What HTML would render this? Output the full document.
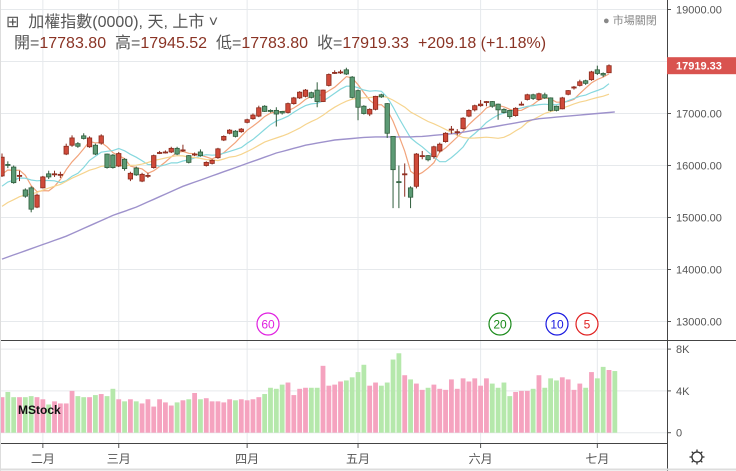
<!DOCTYPE html>
<html><head><meta charset="utf-8"><style>
body{margin:0;background:#fff;}
#wrap{position:relative;width:736px;height:471px;overflow:hidden;font-family:"Liberation Sans","Noto Sans CJK TC",sans-serif;}
.hd{position:absolute;left:6px;font-size:16px;color:#555;white-space:nowrap;}
.v{color:#8a3324;}
</style></head><body>
<div id="wrap">
<div class="hd" style="top:8px">⊞&nbsp; 加權指數(0000), 天, 上市 ˅</div>
<div class="hd" style="top:29px;left:14px">開=<span class="v">17783.80</span>&nbsp; 高=<span class="v">17945.52</span>&nbsp; 低=<span class="v">17783.80</span>&nbsp; 收=<span class="v">17919.33</span>&nbsp; <span class="v">+209.18 (+1.18%)</span></div>
<div style="position:absolute;left:603px;top:12px;font-size:11px;color:#888">● 市場關閉</div>
<svg id="svg" width="736" height="471" style="position:absolute;left:0;top:0;z-index:-1"></svg>
</div>
<script>
const opens=[15800,16020,15970,15800,15530,15570,15200,15570,15840,15830,15820,16220,16390,16420,16570,16360,16390,16430,16220,16200,15990,16120,15740,15950,15700,15800,15960,16240,16260,16260,16330,16290,16190,16210,16260,16000,16040,16150,16490,16620,16660,16650,16830,16900,16950,17140,17060,17060,17040,17020,17190,17300,17330,17400,17450,17230,17540,17780,17790,17840,17700,17440,17140,16990,17080,17360,17190,16560,15690,15830,15570,15600,16180,16190,16170,16280,16460,16690,16640,16710,16950,17070,17150,17220,17230,17180,17080,17060,16960,17170,17270,17360,17270,17360,17300,17140,17090,17370,17490,17540,17630,17650,17840,17770,17783.8];
const closes=[16160,16010,15670,15810,15410,15160,15430,15780,15780,15840,15830,16370,16530,16370,16520,16530,16220,16570,15960,15960,16230,15940,15850,15820,15830,15810,16190,16250,16260,16330,16220,16300,16060,16220,16190,16060,16100,16320,16560,16680,16560,16700,16880,16970,17110,17040,17040,16990,17010,17190,17300,17410,17450,17310,17230,17450,17750,17790,17800,17760,17310,17120,17000,17080,17330,17320,16620,15920,15680,15840,15390,16220,16190,16110,16360,16410,16620,16700,16650,16910,17060,17150,17180,17230,17140,17070,17020,16940,17100,17180,17360,17290,17380,17300,17060,17060,17300,17440,17510,17610,17580,17800,17770,17740,17919.33];
const highs=[16230,16080,16000,15900,15560,15600,15460,15800,15900,15900,15880,16420,16580,16450,16620,16560,16420,16600,16230,16220,16260,16140,15880,15980,15860,15860,16210,16280,16290,16360,16360,16400,16200,16250,16310,16080,16120,16340,16580,16700,16680,16720,16900,17000,17150,17160,17080,17120,17050,17210,17320,17430,17470,17420,17600,17460,17770,17830,17840,17880,17720,17460,17160,17100,17340,17380,17200,16560,16000,16040,15600,16240,16280,16200,16380,16440,16640,16760,16700,16930,17080,17170,17260,17240,17240,17190,17100,17070,17120,17230,17380,17380,17400,17400,17310,17150,17320,17450,17530,17650,17650,17820,17920,17790,17945.52];
const lows=[15780,15950,15650,15700,15380,15100,15180,15560,15740,15780,15760,16200,16360,16340,16500,16340,16200,16400,15940,15940,15970,15900,15700,15800,15680,15760,15940,16220,16230,16240,16200,16260,16040,16180,16170,15980,16020,16130,16470,16600,16540,16630,16810,16880,16930,17030,17020,16750,16980,17000,17170,17280,17310,17290,17120,17220,17520,17760,17760,17740,17290,16870,16980,16950,17060,17300,16530,15180,15180,15400,15180,15560,16120,16080,16130,16250,16440,16610,16580,16690,16930,17040,17130,17140,17110,16880,17000,16900,16940,17150,17250,17260,17250,17280,17040,17040,17080,17350,17460,17520,17550,17630,17740,17700,17783.8];
const volumes=[3.4,3.9,3.4,3.4,3.4,3.5,3.4,3.2,2.7,3.0,2.8,2.8,4.0,3.5,3.4,3.4,3.6,3.7,3.5,4.2,3.2,3.0,3.2,3.0,2.8,3.2,2.5,3.2,2.9,2.6,2.9,3.1,3.2,3.8,3.2,3.3,3.0,3.0,2.9,3.2,3.1,3.2,3.1,3.2,3.4,3.7,4.3,4.2,4.6,4.8,3.6,4.2,4.3,4.3,4.3,6.4,4.5,4.6,4.9,5.0,5.3,5.8,6.5,4.5,4.8,4.5,4.8,7.0,7.6,5.5,5.1,4.7,4.1,4.3,4.6,4.2,4.1,5.1,4.2,5.2,4.9,5.2,4.5,5.2,4.7,4.3,4.8,3.5,3.9,4.0,4.0,4.2,5.5,4.3,5.2,5.0,5.3,5.1,4.1,4.7,4.3,5.8,5.2,6.3,6.0,5.9];
const priorCloses=[14500,14600,14650,14700,14800,14850,14900,15000,15100,15150,15200,15300,15400,15450,15500,15600,15700,15800,15900];
const ma60=[14200,14240,14280,14320,14360,14400,14440,14480,14520,14560,14600,14640,14690,14740,14790,14840,14890,14940,14990,15040,15080,15120,15160,15200,15250,15300,15350,15400,15450,15500,15550,15600,15640,15680,15720,15760,15800,15840,15880,15920,15960,16000,16040,16080,16120,16160,16200,16240,16270,16300,16330,16360,16390,16410,16430,16450,16470,16490,16500,16510,16520,16530,16540,16545,16550,16550,16550,16550,16550,16550,16550,16555,16560,16570,16580,16590,16600,16610,16620,16640,16660,16680,16700,16720,16740,16760,16780,16800,16820,16840,16860,16880,16900,16910,16920,16930,16940,16950,16960,16970,16980,16990,17000,17010,17020,17030];
const priceTicks=[19000,18000,17000,16000,15000,14000,13000];
const volTicks=[8,4,0];
const volTickLabels=["8K","4K","0"];
const monthLabels=["二月","三月","四月","五月","六月","七月"];
const monthIdx=[7,20,42,61,82,102];
const maPeriods=[5,10,20];
const maColors=["#f2a47c","#86d8de","#f6d48e"];
const markerLabels=["60","20","10","5"];
const markerColors=["#e020e0","#1a8a1a","#1a1ae0","#e02020"];
const markerX=[268,500,557,587];

const NS="http://www.w3.org/2000/svg",svg=document.getElementById('svg');
function mk(t,a,p){const e=document.createElementNS(NS,t);for(const k in a)e.setAttribute(k,a[k]);(p||svg).appendChild(e);return e;}
const n=closes.length;
const X=i=>2+i*(607/(n-1));
const Y=v=>113.5-(v-17000)*0.052;
const VY=v=>432.7-v*10.45;
priceTicks.forEach(t=>{const g=mk('line',{x1:0,x2:667,y1:Y(t),y2:Y(t),stroke:'#e6e9ec'});
 const l=mk('text',{x:676,y:Y(t)+4,'font-size':11,fill:'#555'});l.textContent=t.toFixed(2);
 mk('line',{x1:667,x2:671,y1:Y(t),y2:Y(t),stroke:'#555'});});
volTicks.forEach((t,k)=>{const g=mk('line',{x1:0,x2:667,y1:VY(t),y2:VY(t),stroke:'#e6e9ec'});
 const l=mk('text',{x:676,y:VY(t)+4,'font-size':11,fill:'#555'});l.textContent=volTickLabels[k];
 mk('line',{x1:667,x2:671,y1:VY(t),y2:VY(t),stroke:'#555'});});
monthIdx.forEach((mi,k)=>{const x=X(mi);const g=mk('line',{x1:x,x2:x,y1:0,y2:443,stroke:'#e6e9ec'});
 mk('line',{x1:x,x2:x,y1:443,y2:448,stroke:'#555'});
 const l=mk('text',{x:x,y:463,'font-size':12,fill:'#555','text-anchor':'middle'});l.textContent=monthLabels[k];});
volumes.forEach((v,i)=>{const up=closes[i]>=opens[i];const r=mk('rect',{x:X(i)-2.4,y:VY(v),width:4.8,height:VY(0)-VY(v),fill:up?'#f5a3bf':'#b5e8ab'});
 });
const all=priorCloses.concat(closes),off=priorCloses.length;
maPeriods.forEach((p,k)=>{let d='';for(let i=0;i<n;i++){const j=i+off;const s=Math.max(0,j-p+1);let sum=0;for(let q=s;q<=j;q++)sum+=all[q];d+=(i?'L':'M')+X(i).toFixed(1)+' '+Y(sum/(j-s+1)).toFixed(1);}
 const pl=mk('path',{d:d,fill:'none',stroke:maColors[k],'stroke-width':1.2});});
{let d='';ma60.forEach((v,i)=>{d+=(i?'L':'M')+X(i).toFixed(1)+' '+Y(v).toFixed(1);});const pl=mk('path',{d:d,fill:'none',stroke:'#9e92cc','stroke-width':1.4});}
for(let i=0;i<n;i++){const up=closes[i]>=opens[i];const bc=up?'#8a2a1c':'#2f5d3c';const fc=up?'#cf4a3a':'#5c9a74';
 const g=mk('g',{});
 mk('line',{x1:X(i),x2:X(i),y1:Y(highs[i]),y2:Y(lows[i]),stroke:bc},g);
 const t=Y(Math.max(opens[i],closes[i])),b=Y(Math.min(opens[i],closes[i]));
 mk('rect',{x:X(i)-2.2,y:t,width:4.4,height:Math.max(1,b-t),fill:fc,stroke:bc,'stroke-width':0.8},g);}
markerLabels.forEach((m,k)=>{const g=mk('g',{});
 mk('ellipse',{cx:markerX[k],cy:324,rx:11,ry:11,fill:'#fff',stroke:markerColors[k],'stroke-width':1.2},g);
 const t=mk('text',{x:markerX[k],y:328.5,'font-size':12,fill:markerColors[k],'text-anchor':'middle'},g);t.textContent=m;});
mk('line',{x1:667.5,x2:667.5,y1:0,y2:471,stroke:'#444'});
mk('line',{x1:0,x2:736,y1:340.5,y2:340.5,stroke:'#444'});
mk('line',{x1:0,x2:667,y1:443.5,y2:443.5,stroke:'#444'});
mk('line',{x1:0,x2:736,y1:469.5,y2:469.5,stroke:'#ddd','stroke-width':2});
mk('line',{x1:0.5,x2:0.5,y1:0,y2:471,stroke:'#ddd'});
{const g=mk('g',{});
 mk('rect',{x:667,y:Y(closes[n-1])-8.5,width:69,height:17,fill:'#d9534f'},g);
 const t=mk('text',{x:676,y:Y(closes[n-1])+4,'font-size':11,'font-weight':'bold',fill:'#fff'},g);t.textContent=closes[n-1].toFixed(2);}
{const t=mk('text',{x:18,y:414,'font-size':12,'font-weight':'bold',fill:'#111'});t.textContent='MStock';}
{const g=mk('g',{});
 mk('circle',{cx:697,cy:457,r:5,fill:'none',stroke:'#333','stroke-width':1.3},g);
 for(let a=0;a<8;a++){const r=a*Math.PI/4;mk('line',{x1:697+5*Math.cos(r),y1:457+5*Math.sin(r),x2:697+7.5*Math.cos(r),y2:457+7.5*Math.sin(r),stroke:'#333','stroke-width':1.3},g);}}
</script>
</body></html>
